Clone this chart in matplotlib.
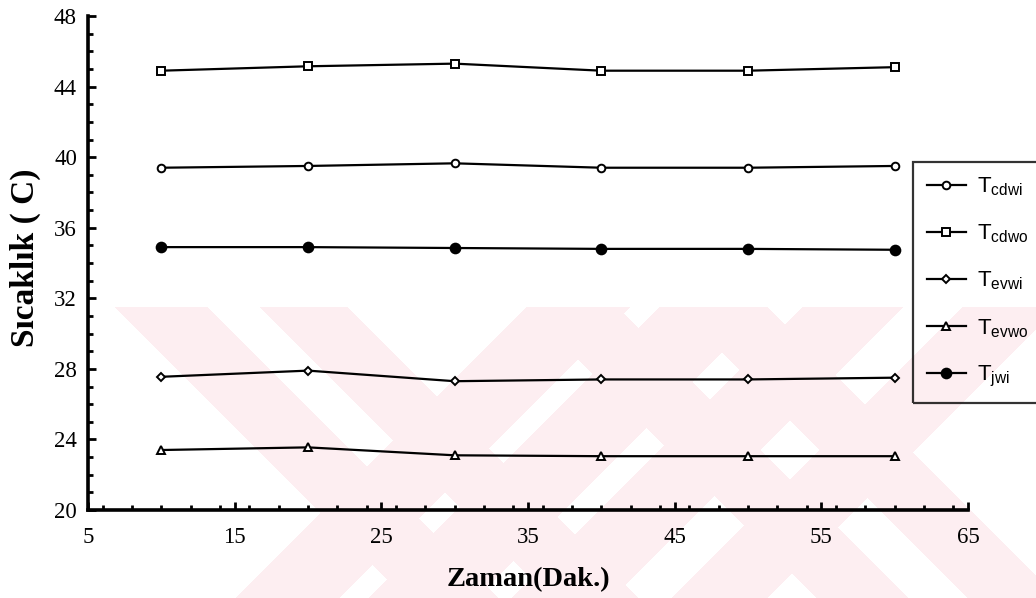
import numpy as np
import matplotlib
matplotlib.use("Agg")
import matplotlib.pyplot as plt
from matplotlib.ticker import MultipleLocator
from matplotlib.font_manager import FontProperties

plt.rcParams["mathtext.fontset"] = "custom"
plt.rcParams["mathtext.rm"] = "Liberation Sans"
plt.rcParams["mathtext.it"] = "Liberation Sans:italic"
plt.rcParams["mathtext.bf"] = "Liberation Sans:bold"

# Measured temperatures (C) against time (minutes)
zaman = [10, 20, 30, 40, 50, 60]
T_cdwi = [39.4, 39.5, 39.65, 39.4, 39.4, 39.5]
T_cdwo = [44.9, 45.15, 45.3, 44.9, 44.9, 45.1]
T_evwi = [27.55, 27.9, 27.3, 27.4, 27.4, 27.5]
T_evwo = [23.4, 23.55, 23.1, 23.05, 23.05, 23.05]
T_jwi = [34.9, 34.9, 34.85, 34.8, 34.8, 34.75]

series_labels = [r"$\mathrm{T_{cdwi}}$", r"$\mathrm{T_{cdwo}}$", r"$\mathrm{T_{evwi}}$",
                 r"$\mathrm{T_{evwo}}$", r"$\mathrm{T_{jwi}}$"]
x_ticks = [5, 15, 25, 35, 45, 55, 65]
y_ticks = [20, 24, 28, 32, 36, 40, 44, 48]

W, H = 1036, 598
fig = plt.figure(figsize=(W / 100, H / 100), dpi=100)

# faint diagonal-band background emblem
bg = fig.add_axes([0, 0, 1, 1], zorder=-5)
bg.set_axis_off()
Xp, Yp = np.meshgrid(np.arange(W) + 0.5, np.arange(H) + 0.5)
s = Xp + Yp
u = Xp - Yp
mask = np.zeros_like(Xp, dtype=bool)
for lo, hi in [(834, 937), (967, 1074), (1110, 1210), (1270, 1365)]:
    mask |= (s >= lo) & (s <= hi)
for lo, hi in [(-192, -100), (-47, 40), (219, 310), (370, 460)]:
    mask |= (u >= lo) & (u <= hi)
mask &= Yp >= 307
img = np.ones((H, W, 3))
img[mask] = np.array([253, 238, 241]) / 255.0
bg.imshow(img, extent=[0, W, H, 0], aspect="auto", interpolation="nearest")
bg.set_xlim(0, W)
bg.set_ylim(H, 0)

ax = fig.add_axes([88 / W, 1 - 510 / H, 880 / W, 494 / H])
ax.set_facecolor("none")

styles = [
    dict(marker="o", ms=5.5, mfc="white"),
    dict(marker="s", ms=5.2, mfc="white"),
    dict(marker="D", ms=4.0, mfc="white"),
    dict(marker="^", ms=5.5, mfc="white"),
    dict(marker="o", ms=7.0, mfc="black"),
]
handles = []
for ys, st, lab in zip([T_cdwi, T_cdwo, T_evwi, T_evwo, T_jwi], styles, series_labels):
    (ln,) = ax.plot(zaman, ys, color="black", lw=1.6, mec="black", mew=1.4,
                    label=lab, clip_on=False, **st)
    handles.append(ln)

ax.set_xlim(5, 65)
ax.set_ylim(20, 48)
ax.set_xticks(x_ticks)
ax.set_yticks(y_ticks)
ax.xaxis.set_minor_locator(MultipleLocator(2))
ax.yaxis.set_minor_locator(MultipleLocator(1))

for side in ["top", "right"]:
    ax.spines[side].set_visible(False)
for side in ["left", "bottom"]:
    ax.spines[side].set_linewidth(2.6)

ax.tick_params(which="major", direction="in", length=6, width=2, labelsize=16.5)
ax.tick_params(axis="y", which="major", pad=8)
ax.tick_params(axis="x", which="major", pad=12)
ax.tick_params(which="minor", direction="in", length=3.5, width=2)
for lbl in ax.get_xticklabels() + ax.get_yticklabels():
    lbl.set_fontfamily("Liberation Serif")

ax.set_xlabel("Zaman(Dak.)", fontfamily="Liberation Serif", fontweight="bold",
              fontsize=20.5, va="center")
ax.xaxis.set_label_coords(0.5, -70 / 494)
ax.set_ylabel("Sıcaklık ( C)", fontfamily="Liberation Serif", fontweight="bold",
              fontsize=24, va="center")
ax.yaxis.set_label_coords(-63 / 880, 0.51)

leg = ax.legend(handles=handles, loc="upper left",
                bbox_to_anchor=(913 / W, 1 - 162 / H), bbox_transform=fig.transFigure,
                frameon=True, fancybox=False, edgecolor="black", facecolor="none",
                borderaxespad=0, borderpad=0.62, labelspacing=1.1,
                handlelength=1.75, handletextpad=0.5,
                prop=FontProperties(family="Liberation Sans", size=16))
leg.get_frame().set_linewidth(1.6)

fig.savefig("out.png", dpi=100)
